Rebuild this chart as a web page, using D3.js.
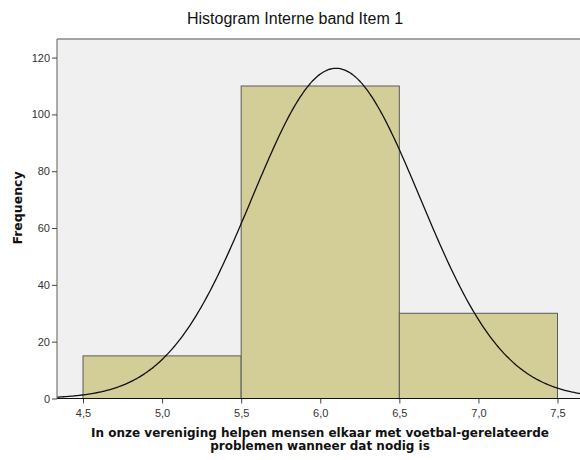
<!DOCTYPE html>
<html>
<head>
<meta charset="utf-8">
<script src="https://cdn.jsdelivr.net/npm/d3@7"></script>
<style>
  body { margin: 0; background: #fff; }
  text { font-family: "Liberation Sans", Arial, sans-serif; }
</style>
</head>
<body>
<div id="wrapper"></div>
<script>
// histogram data
var binStart = [4.5, 5.5, 6.5];
var binEnd = [5.5, 6.5, 7.5];
var counts = [15, 110, 30];
var xTicks = [4.5, 5.0, 5.5, 6.0, 6.5, 7.0, 7.5];
var yTicks = [0, 20, 40, 60, 80, 100, 120];
// normal curve parameters (SPSS fit)
var mean = 6.10;
var sd = 0.532;
var n = 155;
var binWidth = 1;

var width = 580, height = 460;
var plotLeft = 57, plotTop = 39, plotBottom = 398.5, plotRight = 582;

const svg = d3.select('#wrapper').append('svg')
  .attr('width', width)
  .attr('height', height)
  .style('display', 'block');

var x = d3.scaleLinear().domain([4.5, 7.5]).range([83, 557.5]);
var y = d3.scaleLinear().domain([0, 110]).range([plotBottom, 86]);

svg.append('defs').append('clipPath').attr('id', 'clip')
  .append('rect').attr('x', plotLeft).attr('y', plotTop)
  .attr('width', plotRight - plotLeft).attr('height', plotBottom - plotTop);

// plot background
svg.append('rect')
  .attr('x', plotLeft).attr('y', plotTop)
  .attr('width', plotRight - plotLeft).attr('height', plotBottom - plotTop)
  .attr('fill', '#f0f0f0');

// bars
svg.append('g').selectAll('rect')
  .data(counts)
  .join('rect')
  .attr('x', (d, i) => x(binStart[i]))
  .attr('y', d => y(d))
  .attr('width', (d, i) => x(binEnd[i]) - x(binStart[i]))
  .attr('height', d => y(0) - y(d))
  .attr('fill', '#d3ce97')
  .attr('stroke', '#5a5a5a')
  .attr('stroke-width', 1);

// normal curve
var xs = d3.range(x.invert(plotLeft), x.invert(plotRight) + 0.01, 0.01);
var line = d3.line()
  .x(d => x(d))
  .y(d => y(n * binWidth / (sd * Math.sqrt(2 * Math.PI)) * Math.exp(-0.5 * Math.pow((d - mean) / sd, 2))))
  .curve(d3.curveBasis);
svg.append('path')
  .datum(xs)
  .attr('clip-path', 'url(#clip)')
  .attr('d', line)
  .attr('fill', 'none')
  .attr('stroke', '#111')
  .attr('stroke-width', 1.3);

// frame
svg.append('line').attr('x1', plotLeft).attr('x2', plotRight).attr('y1', plotTop).attr('y2', plotTop)
  .attr('stroke', '#888').attr('stroke-width', 1.5);
svg.append('line').attr('x1', plotLeft).attr('x2', plotLeft).attr('y1', plotTop).attr('y2', plotBottom)
  .attr('stroke', '#777').attr('stroke-width', 1.2);

// axes
const yAxis = svg.append('g')
  .attr('transform', `translate(${plotLeft},0)`)
  .call(d3.axisLeft(y).tickValues(yTicks).tickSize(5).tickPadding(2));
yAxis.select('.domain').remove();
yAxis.selectAll('.tick line').attr('stroke', '#444');
yAxis.selectAll('.tick text').attr('fill', '#333').style('font-size', '11px')
  .style('font-family', '"Liberation Sans", Arial, sans-serif');

const xAxis = svg.append('g')
  .attr('transform', `translate(0,${plotBottom})`)
  .call(d3.axisBottom(x).tickValues(xTicks).tickSize(5).tickPadding(6)
    .tickFormat(d => d3.format('.1f')(d).replace('.', ',')));
xAxis.select('.domain').remove();
xAxis.selectAll('.tick line').attr('stroke', '#444');
xAxis.selectAll('.tick text').attr('fill', '#333').style('font-size', '11px')
  .style('font-family', '"Liberation Sans", Arial, sans-serif');
svg.append('line').attr('x1', plotLeft).attr('x2', plotRight).attr('y1', plotBottom).attr('y2', plotBottom)
  .attr('stroke', '#111').attr('stroke-width', 1.2);

// title
svg.append('text')
  .attr('x', 295).attr('y', 24)
  .attr('text-anchor', 'middle')
  .style('font-size', '16px')
  .attr('fill', '#111')
  .text('Histogram Interne band Item 1');

// y label
svg.append('text')
  .attr('transform', 'translate(22,208) rotate(-90)')
  .attr('text-anchor', 'middle')
  .style('font-size', '12.5px')
  .style('font-weight', 'bold')
  .style('font-family', '"DejaVu Sans", sans-serif')
  .attr('fill', '#111')
  .text('Frequency');

// x label
var xLabel = svg.append('text')
  .attr('text-anchor', 'middle')
  .style('font-size', '12px')
  .style('font-weight', 'bold')
  .style('font-family', '"DejaVu Sans", sans-serif')
  .attr('fill', '#111');
xLabel.append('tspan').attr('x', 320).attr('y', 437)
  .text('In onze vereniging helpen mensen elkaar met voetbal-gerelateerde');
xLabel.append('tspan').attr('x', 320).attr('y', 450)
  .text('problemen wanneer dat nodig is');
</script>
</body>
</html>
